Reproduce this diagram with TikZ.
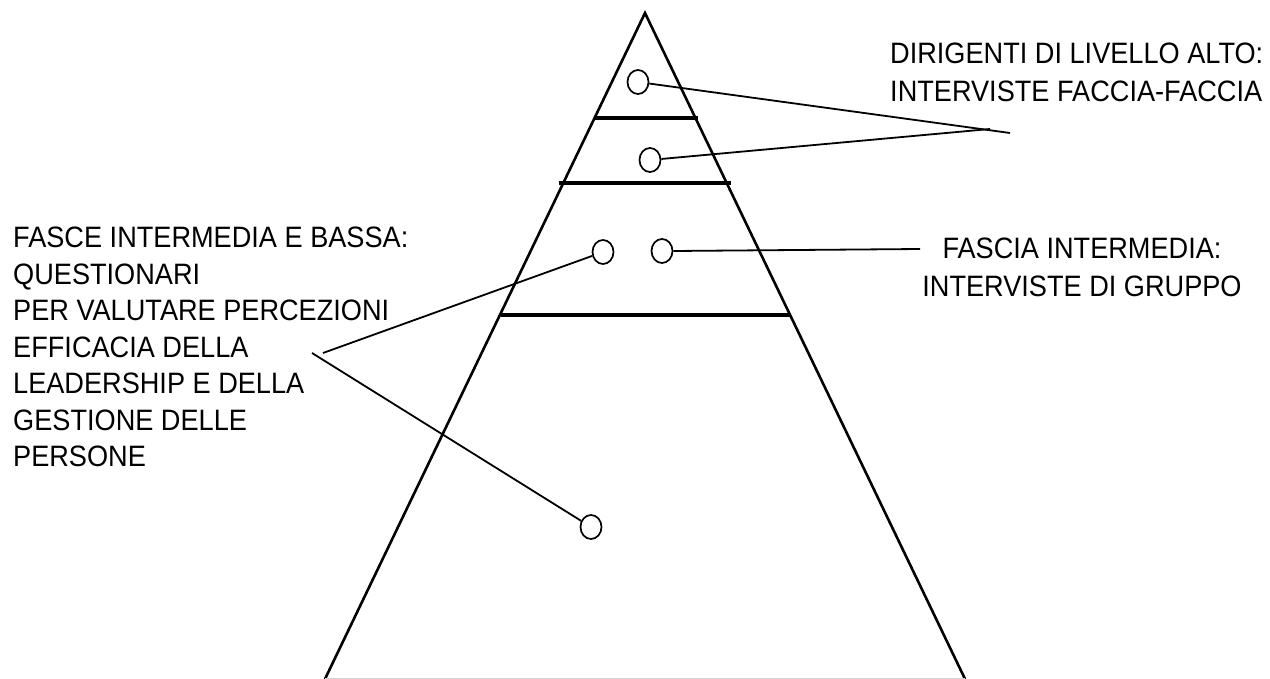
\documentclass[tikz,border=0pt]{standalone}
\usepackage{fontspec}
\setmainfont[FakeStretch=0.92]{Liberation Sans}
\usetikzlibrary{shapes.geometric,positioning}

\begin{document}
\begin{tikzpicture}[x=1pt, y=-1pt,
  side/.style={line width=2.6pt, black},
  band/.style={line width=4.6pt, black},
  ring/.style={ellipse, draw, line width=1.7pt, minimum width=21pt, minimum height=24pt, inner sep=0pt},
  link/.style={line width=1.8pt, black},
  lbl/.style={inner sep=0pt, font=\fontsize{29.5}{37.5}\selectfont}
]
\useasboundingbox (0,0) rectangle (1270,679);

% pyramid
\draw[side] (325,679) -- (645,13) -- (965,679);
\draw[gray!35, line width=1pt] (325,678.5) -- (965,678.5);
\draw[band] (595,118) -- (698,118);
\draw[band] (559,183) -- (731,183);
\draw[band] (501,315) -- (791,315);

% sample points
\node[ring] (d1) at (638,82) {};
\node[ring] (d2) at (650,160) {};
\node[ring] (m1) at (603,252) {};
\node[ring] (m2) at (662,251) {};
\node[ring] (b1) at (591,527) {};

% labels
\node[lbl, anchor=north west, align=left] (lt) at (890,43) {DIRIGENTI DI LIVELLO ALTO:\\INTERVISTE FACCIA-FACCIA};
\node[lbl, anchor=north, align=center] (lm) at (1082,238) {FASCIA INTERMEDIA:\\INTERVISTE DI GRUPPO};
\node[lbl, anchor=north west, align=left, font=\fontsize{29.5}{36.5}\selectfont] (ll) at (13,227) {FASCE INTERMEDIA E BASSA:\\QUESTIONARI\\PER VALUTARE PERCEZIONI\\EFFICACIA DELLA\\LEADERSHIP E DELLA\\GESTIONE DELLE\\PERSONE};

% leader lines
\coordinate (j1) at (1010,133);
\coordinate (j2) at (990,129);
\coordinate (j3) at (920,249);
\coordinate (j4) at (323,353);
\coordinate (j5) at (312,353);
\draw[link] (d1) -- (j1);
\draw[link] (d2) -- (j2);
\draw[link] (m2.east) -- (j3);
\draw[link] (m1) -- (j4);
\draw[link] (b1) -- (j5);
\end{tikzpicture}
\end{document}
